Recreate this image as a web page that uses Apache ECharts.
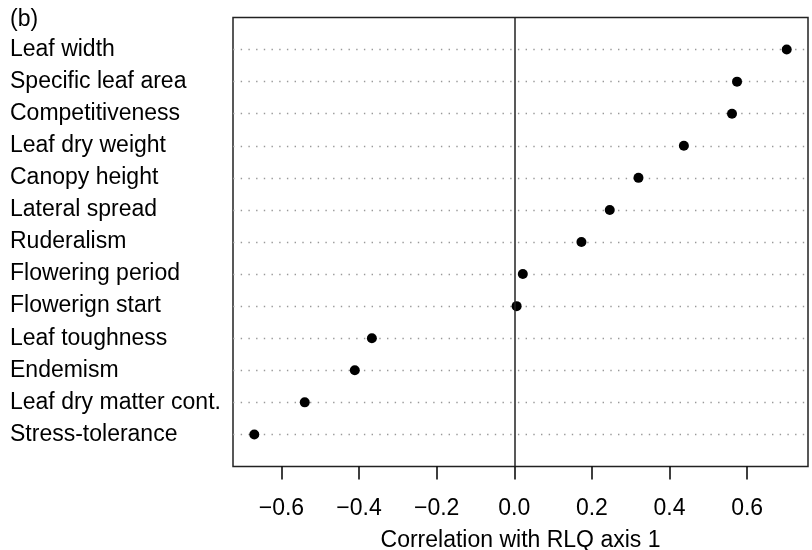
<!DOCTYPE html>
<html>
<head>
<meta charset="utf-8">
<script src="https://cdn.jsdelivr.net/npm/echarts@6/dist/echarts.min.js"></script>
<style>
  html, body { margin: 0; padding: 0; background: #fff; }
  #chart { width: 812px; height: 550px; }
</style>
</head>
<body>
<div id="chart"></div>
<script>
// traits, top to bottom
const traits = [
  'Leaf width', 'Specific leaf area', 'Competitiveness', 'Leaf dry weight',
  'Canopy height', 'Lateral spread', 'Ruderalism', 'Flowering period',
  'Flowerign start', 'Leaf toughness', 'Endemism', 'Leaf dry matter cont.',
  'Stress-tolerance'
]
// correlation with RLQ axis 1
const corr = [
  0.702, 0.574, 0.561, 0.437, 0.320, 0.246, 0.173, 0.022, 0.006,
  -0.367, -0.411, -0.540, -0.670
]
const xTicks = [-0.6, -0.4, -0.2, 0.0, 0.2, 0.4, 0.6]

const FONT = "'Liberation Sans', Arial, sans-serif"

// dotchart style range: 4% past the data
const lo = Math.min(...corr)
const hi = Math.max(...corr)
const pad = (hi - lo) * 0.04

const chart = echarts.init(document.getElementById('chart'))
chart.setOption({
  animation: false,
  title: {
    text: '(b)',
    left: 5,
    top: 3,
    textStyle: { fontFamily: FONT, fontSize: 23, fontWeight: 'normal', color: '#000' }
  },
  grid: {
    left: 233, right: 4, top: 17.5, bottom: 83.5,
    outerBoundsMode: 'none',
    containLabel: false,
    show: true, borderColor: '#222', borderWidth: 1.5, backgroundColor: 'transparent'
  },
  xAxis: {
    type: 'value',
    position: 'bottom',
    min: lo - pad,
    max: hi + pad,
    axisLine: { show: false, onZero: false },
    splitLine: { show: false },
    axisTick: { show: true, length: 13, customValues: xTicks, lineStyle: { color: '#000', width: 1.5 } },
    axisLabel: {
      customValues: xTicks,
      margin: 31,
      fontFamily: FONT, fontSize: 23, color: '#000',
      formatter: v => v.toFixed(1).replace('-', '\u2212')
    },
    name: 'Correlation with RLQ axis 1',
    nameLocation: 'middle',
    nameGap: 63,
    nameTextStyle: { fontFamily: FONT, fontSize: 23, color: '#000' }
  },
  yAxis: {
    type: 'value',
    min: 0,
    max: 14,
    interval: 1,
    inverse: true,
    axisLine: { show: false, onZero: false },
    axisTick: { show: false },
    splitLine: {
      show: true, showMinLine: false, showMaxLine: false,
      lineStyle: { color: '#999', width: 1.4, type: [1.4, 6.3] }
    },
    axisLabel: {
      align: 'left',
      margin: 223,
      fontFamily: FONT, fontSize: 23, color: '#000',
      formatter: v => traits[v - 1] || ''
    }
  },
  series: [{
    type: 'scatter',
    data: corr.map((c, i) => [c, i + 1]),
    symbol: 'circle',
    symbolSize: 10,
    itemStyle: { color: '#000', opacity: 1 },
    markLine: {
      silent: true,
      symbol: 'none',
      label: { show: false },
      lineStyle: { color: '#222', width: 1.5, type: 'solid' },
      data: [{ xAxis: 0 }]
    }
  }]
})
</script>
</body>
</html>
